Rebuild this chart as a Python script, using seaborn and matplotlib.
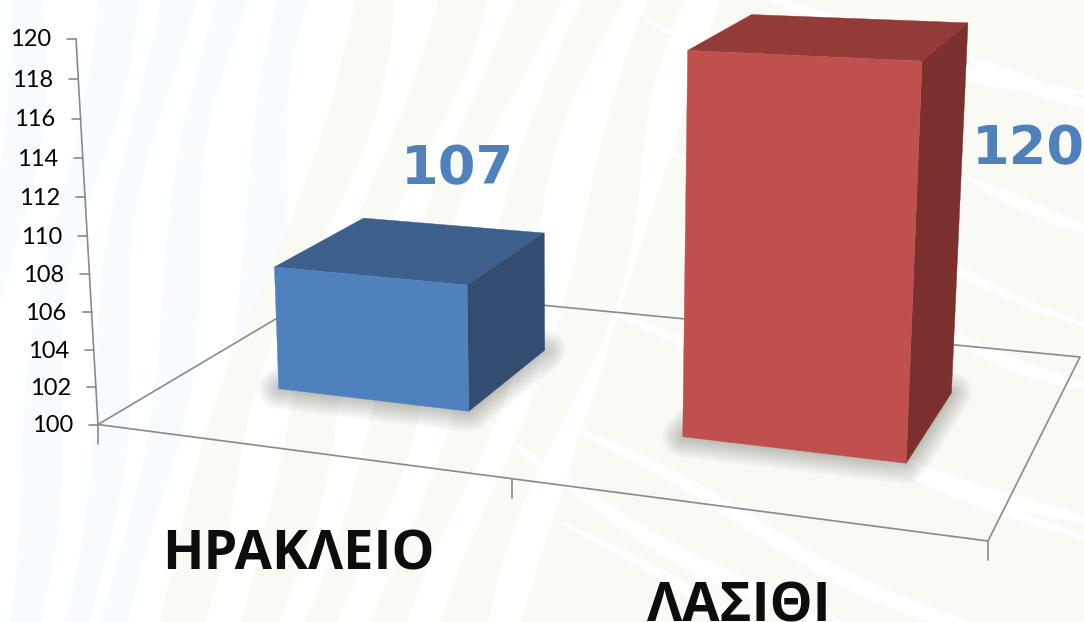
import numpy as np
import matplotlib
matplotlib.use("Agg")
import matplotlib.pyplot as plt
import seaborn as sns

# chart values
CATEGORIES = ["ΗΡΑΚΛΕΙΟ", "ΛΑΣΙΘΙ"]
VALUES = [107, 120]
BAR_COLORS = ["#4F81BD", "#C0504D"]
TICKS = [100, 102, 104, 106, 108, 110, 112, 114, 116, 118, 120]

VMIN, VMAX = 100, 120
AXIS_GREY = "#8A8A8A"
LABEL_BLUE = "#4F81BD"

sns.set_theme(style="white")
plt.rcParams["font.family"] = ["Open Sans", "DejaVu Sans"]

fig = plt.figure(figsize=(10.84, 6.22), dpi=100, facecolor="white")

# seaborn makes the bars, they get projected to 3d further down
data_ax = fig.add_axes([0, 0, 0.1, 0.1])
sns.barplot(x=CATEGORIES, y=VALUES, hue=CATEGORIES, palette=BAR_COLORS, width=0.49,
            saturation=1, dodge=False, legend=False, ax=data_ax)
bars = [(p.get_x(), p.get_x() + p.get_width(), p.get_height(), p.get_facecolor())
        for p in data_ax.patches if p.get_width() > 0]
data_ax.remove()

ax = fig.add_axes([0, 0, 1, 1])
ax.set_xlim(0, 1084)
ax.set_ylim(622, 0)
ax.set_axis_off()


# ---- the camera: floor corners on screen + how the value axis leans
def floor_homography(corners):
    unit = [(0, 0), (1, 0), (1, 1), (0, 1)]
    A, b = [], []
    for (s, t), (x, y) in zip(unit, corners):
        A.append([s, t, 1, 0, 0, 0, -s * x, -t * x])
        A.append([0, 0, 0, s, t, 1, -s * y, -t * y])
        b += [x, y]
    return np.linalg.solve(np.array(A, float), np.array(b, float))


h = floor_homography([(98, 424.5), (988, 541), (1080, 357), (333, 285)])
AZ = -0.044
P = np.array([
    [h[0], h[1], 76 * AZ + 76 - 98, h[2]],
    [h[3], h[4], 39 * AZ + 39 - 424.5, h[5]],
    [h[6], h[7], AZ, 1.0],
])
BAR_SCALE = 0.965  # bars stop a little under the axis top in the original
DEPTH_FRONT, DEPTH_BACK = 0.30, 0.70


def project(s, t, w):
    x, y, z = P @ np.array([s, t, w, 1.0])
    return x / z, y / z


def cat_to_s(x):
    return (x + 0.52) / 2


def val_to_w(v):
    return (v - VMIN) / (VMAX - VMIN)


# ---- background fingerprint stripes
def band(x_top, x_bot, width, color, wob=10, phase=0.0):
    ys = np.linspace(0, 622, 60)
    xs = x_top + (x_bot - x_top) * ys / 622 + wob * np.sin(ys / 90 + phase)
    wd = width * (1 + 0.2 * np.sin(ys / 70 + phase))
    ax.fill_betweenx(ys, xs, xs + wd, color=color, lw=0, zorder=0)


def streak(x0, y0, length, slope, width, color, phase=0.0):
    xs = np.linspace(x0, x0 + length, 60)
    ys = y0 + slope * (xs - x0) + 7 * np.sin(xs / 60 + phase)
    taper = np.sin(np.linspace(0, np.pi, 60)) ** 0.6
    ax.fill_between(xs, ys, ys + width * taper, color=color, lw=0, zorder=0.2)


BLUE_BG = "#F7FBFE"
CREAM_BG = "#F9FAF3"
for x_top, x_bot, wd, ph in [(10, -60, 32, 0), (90, 0, 34, 1), (152, 60, 30, 2), (215, 105, 32, 3),
                             (285, 170, 36, 4)]:
    band(x_top, x_bot, wd, BLUE_BG, phase=ph)
for x_top, x_bot, wd, ph in [(355, 155, 40, 0), (430, 230, 42, 1), (505, 300, 40, 2), (580, 375, 42, 3),
                             (655, 450, 45, 4)]:
    band(x_top, x_bot, wd, CREAM_BG, phase=ph)
ax.fill([720, 1084, 1084, 520], [0, 0, 622, 622], color=CREAM_BG, lw=0, zorder=0.1)
for x0, y0, ln, sl, wd in [(640, 10, 300, 0.35, 14), (760, 0, 330, 0.28, 16), (960, 60, 140, 0.3, 16),
                           (640, 130, 460, 0.42, 12), (960, 180, 140, 0.35, 14), (600, 300, 500, 0.5, 16),
                           (900, 300, 200, 0.45, 14), (560, 420, 540, 0.5, 18), (740, 380, 360, 0.42, 16),
                           (500, 440, 420, 0.55, 20), (880, 440, 220, 0.4, 14), (560, 520, 440, 0.55, 14)]:
    streak(x0, y0, ln, sl, wd, "white", phase=x0 % 7)

# ---- floor and axes
floor = [project(s, t, 0) for s, t in [(0, 0), (1, 0), (1, 1), (0, 1), (0, 0)]]
ax.plot(*zip(*floor), color=AXIS_GREY, lw=1.2, zorder=1)
ax.plot(*zip(project(0, 0, 0), project(0, 0, 1)), color=AXIS_GREY, lw=1.2, zorder=1)

for v in TICKS:
    x, y = project(0, 0, val_to_w(v))
    ax.plot([x - 9, x], [y, y], color=AXIS_GREY, lw=1.2, zorder=1)
    ax.text(x - 25, y + 1, str(v), ha="right", va="center", fontsize=17, color="black",
            family=["Lato", "Open Sans"])

# category ticks: both ends of the front edge and the boundary between the two bars
for s in [0, cat_to_s(0.5) - 0.001, 1]:
    x, y = project(s, 0, 0)
    ax.plot([x, x], [y, y + 19], color=AXIS_GREY, lw=1.2, zorder=1)

# ---- bars
for x0, x1, value, color in bars:
    s0, s1 = cat_to_s(x0), cat_to_s(x1)
    w = val_to_w(value) * BAR_SCALE
    rgb = np.array(color[:3])
    t0, t1 = DEPTH_FRONT, DEPTH_BACK

    foot = [project(s0, t0, 0), project(s1, t0, 0), project(s1, t1, 0), project(s0, t1, 0)]
    # soft shadow, many thin layers so no bands show
    for lw in np.arange(2, 32, 2):
        ax.fill(*zip(*foot), facecolor="none", edgecolor="black", lw=lw, alpha=0.014,
                joinstyle="round", zorder=2)

    front = [project(s0, t0, 0), project(s1, t0, 0), project(s1, t0, w), project(s0, t0, w)]
    side = [project(s1, t0, 0), project(s1, t1, 0), project(s1, t1, w), project(s1, t0, w)]
    top = [project(s0, t0, w), project(s1, t0, w), project(s1, t1, w), project(s0, t1, w)]
    ax.fill(*zip(*top), color=rgb * np.array([0.76, 0.74, 0.74]), lw=0.3, zorder=3)
    ax.fill(*zip(*side), color=rgb * np.array([0.64, 0.6, 0.6]), lw=0.3, zorder=3)
    ax.fill(*zip(*front), color=rgb, lw=0.3, zorder=3)

# ---- text
ax.text(457, 169, str(VALUES[0]), ha="center", va="center", fontsize=39, fontweight="bold",
        color=LABEL_BLUE, family="DejaVu Sans", zorder=5)
ax.text(1028, 149, str(VALUES[1]), ha="center", va="center", fontsize=39, fontweight="bold",
        color=LABEL_BLUE, family="DejaVu Sans", zorder=5)
ax.text(298.5, 569, CATEGORIES[0], ha="center", va="baseline", fontsize=39, fontweight="bold", color="#0D0D0D")
ax.text(738.5, 622, CATEGORIES[1], ha="center", va="baseline", fontsize=39, fontweight="bold", color="#0D0D0D")

fig.savefig("out.png", dpi=100)
